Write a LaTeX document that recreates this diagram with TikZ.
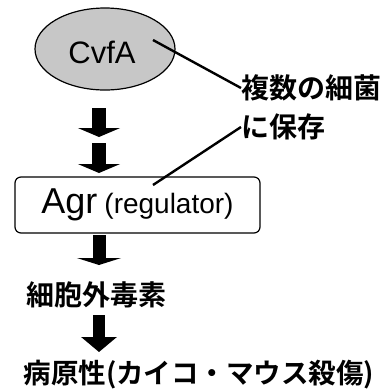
\documentclass[tikz,border=0pt]{standalone}
\usepackage{fontspec}
\setmainfont{Liberation Sans}
\newfontfamily\cjk{Noto Sans CJK JP Bold}
\usetikzlibrary{arrows.meta,shapes.geometric}
\tikzset{
  blockarrow/.style n args={3}{draw=black,line width=#1,-{Triangle[width=#2,length=#3]}},
  jtext/.style={inner sep=0pt,font=\cjk\fontsize{28}{30}\selectfont},
  leader/.style={line width=2.4pt},
}
\begin{document}
\begin{tikzpicture}[x=1pt,y=-1pt]
\useasboundingbox (0,0) rectangle (390,392);
% ellipse
\node[ellipse,draw,line width=1.2pt,fill=black!22,minimum width=140pt,minimum height=82pt,inner sep=0pt] (cvfa) at (105,49) {};
\node[inner sep=0pt,font=\fontsize{31}{31}\selectfont] (cvfatext) at (102,52) {CvfA};
% Japanese note
\node[jtext,anchor=west] (note1) at (241,88) {複数の細菌};
\node[jtext,anchor=west] (note2) at (241,127) {に保存};
% box
\node[draw,rounded corners=6pt,line width=1.2pt,minimum width=245pt,minimum height=56pt,inner sep=0pt] (agr) at (137.5,205)
  {\fontsize{36}{36}\selectfont Agr\hspace{7pt}\fontsize{28}{28}\selectfont(regulator)};
\node[jtext] (toxin) at (97,295) {細胞外毒素};
\node[jtext,font=\cjk\fontsize{27.5}{30}\selectfont] (path) at (199,375) {病原性(カイコ・マウス殺傷)};
% leader lines
\coordinate (l1s) at (153,40);
\coordinate (l2e) at (153,185);
\draw[leader] (l1s) -- (note1.west);
\draw[leader] (note2.west) -- (l2e);
% block arrows
\coordinate (a1s) at (99,108); \coordinate (a1e) at (99,137);
\coordinate (a2s) at (99,143); \coordinate (a2e) at (99,173);
\coordinate (a3s) at (99,235); \coordinate (a3e) at (99,265);
\coordinate (a4s) at (99,315); \coordinate (a4e) at (99,352);
\draw[blockarrow={14pt}{42pt}{9pt}] (a1s) -- (a1e);
\draw[blockarrow={14pt}{42pt}{9pt}] (a2s) -- (a2e);
\draw[blockarrow={13pt}{44pt}{7pt}] (a3s) -- (a3e);
\draw[blockarrow={12pt}{35pt}{15pt}] (a4s) -- (a4e);
\end{tikzpicture}
\end{document}
